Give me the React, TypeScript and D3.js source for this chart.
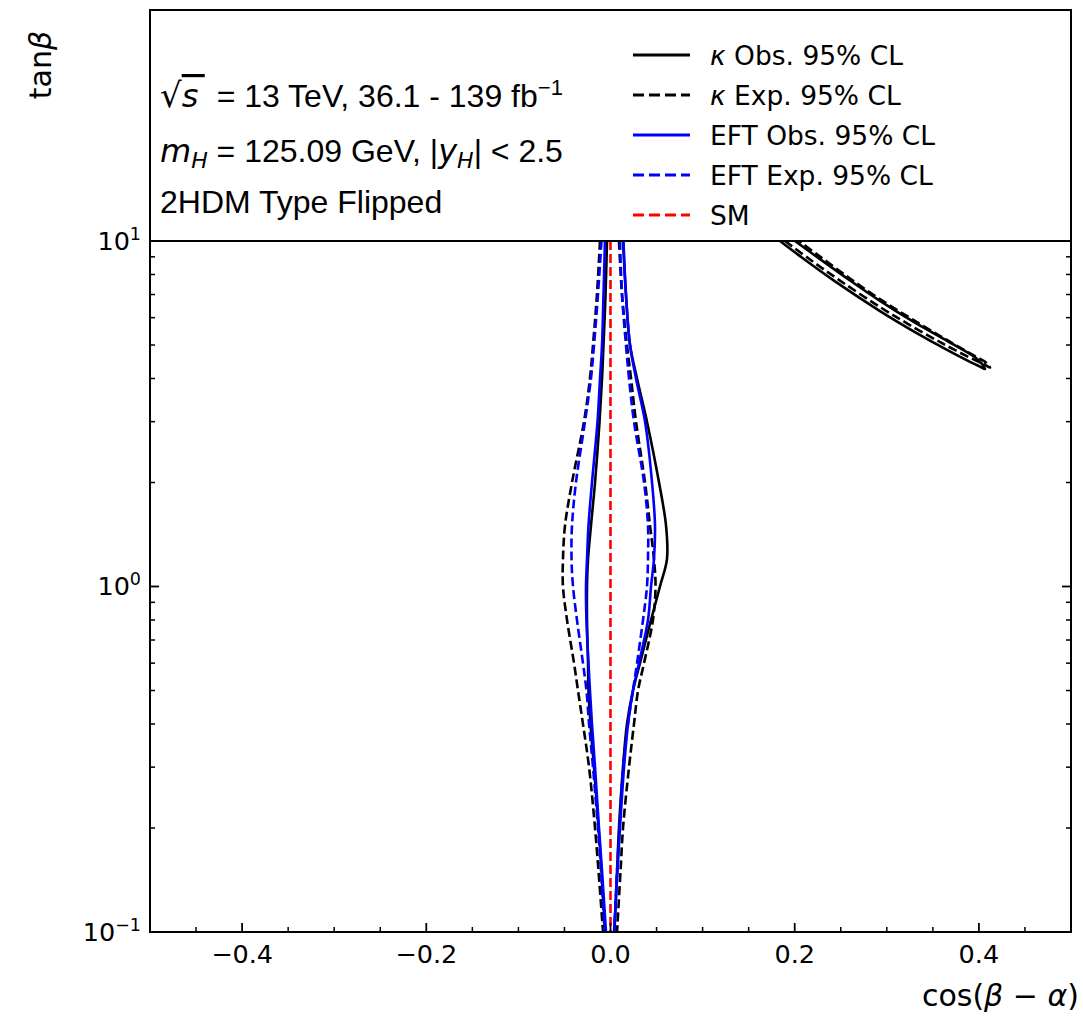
import React from 'react';
import * as d3 from 'd3';

// tanβ sampling grid for the central contours (top → bottom)
const tanBetaGrid = [10, 7, 5, 4, 3, 2, 1.5, 1.2, 1.0, 0.8, 0.6, 0.5, 0.4, 0.3, 0.2, 0.15, 0.1];

// cos(β−α) of each contour branch at the tanβ grid
const kappaObsLeft = [-0.0038, -0.0054, -0.0076, -0.0092, -0.0119, -0.0168, -0.0212, -0.0244, -0.0255, -0.0255, -0.0244, -0.0239, -0.0217, -0.0179, -0.0130, -0.0098, -0.0060];
const kappaObsRight = [0.0136, 0.0168, 0.0212, 0.0288, 0.0396, 0.0527, 0.0603, 0.0613, 0.0537, 0.0440, 0.0320, 0.0244, 0.0179, 0.0136, 0.0092, 0.0071, 0.0043];
const kappaExpLeft = [-0.0114, -0.0147, -0.0190, -0.0223, -0.0288, -0.0418, -0.0494, -0.0516, -0.0516, -0.0472, -0.0396, -0.0353, -0.0299, -0.0233, -0.0168, -0.0130, -0.0081];
const kappaExpRight = [0.0092, 0.0125, 0.0179, 0.0223, 0.0277, 0.0375, 0.0429, 0.0472, 0.0489, 0.0461, 0.0364, 0.0299, 0.0255, 0.0201, 0.0136, 0.0109, 0.0071];
const eftObsLeft = [-0.0060, -0.0076, -0.0092, -0.0114, -0.0141, -0.0201, -0.0239, -0.0255, -0.0266, -0.0261, -0.0239, -0.0223, -0.0201, -0.0168, -0.0125, -0.0092, -0.0049];
const eftObsRight = [0.0141, 0.0168, 0.0212, 0.0277, 0.0375, 0.0451, 0.0483, 0.0472, 0.0440, 0.0407, 0.0309, 0.0244, 0.0190, 0.0147, 0.0103, 0.0076, 0.0038];
const eftExpLeft = [-0.0098, -0.0136, -0.0179, -0.0212, -0.0277, -0.0375, -0.0418, -0.0423, -0.0407, -0.0364, -0.0299, -0.0261, -0.0233, -0.0190, -0.0136, -0.0103, -0.0065];
const eftExpRight = [0.0103, 0.0125, 0.0168, 0.0201, 0.0255, 0.0364, 0.0407, 0.0407, 0.0396, 0.0353, 0.0288, 0.0244, 0.0190, 0.0136, 0.0098, 0.0071, 0.0043];

// upper-right κ islands (closed thin contours: lower edge to tip, then upper edge back)
const kappaObsIslandX = [0.1840, 0.2058, 0.2438, 0.2926, 0.3306, 0.3654, 0.3925, 0.4012, 0.4066, 0.4034, 0.3958, 0.3654, 0.3306, 0.2926, 0.2600, 0.2275, 0.2003];
const kappaObsIslandT = [10.0, 9.04, 7.64, 6.27, 5.45, 4.84, 4.44, 4.33, 4.26, 4.41, 4.61, 5.14, 5.80, 6.71, 7.69, 8.86, 10.0];
const kappaExpIslandX = [0.1895, 0.2166, 0.2492, 0.2926, 0.3306, 0.3654, 0.3958, 0.4066, 0.4121, 0.4077, 0.3958, 0.3654, 0.3306, 0.2926, 0.2600, 0.2275, 0.2047];
const kappaExpIslandT = [10.0, 8.84, 7.68, 6.44, 5.60, 4.97, 4.52, 4.38, 4.30, 4.45, 4.64, 5.17, 5.87, 6.79, 7.79, 9.01, 10.0];

const smValue = 0.0;

const xMajorTicks = [-0.4, -0.2, 0.0, 0.2, 0.4];
const xTickLabels = ['\u22120.4', '\u22120.2', '0.0', '0.2', '0.4'];
const xMinorTicks = [-0.45, -0.35, -0.3, -0.25, -0.15, -0.1, -0.05, 0.05, 0.1, 0.15, 0.25, 0.3, 0.35, 0.45];
const yMajorTicks = [0.1, 1, 10];
const yTickExponents = ['\u22121', '0', '1'];

const legendLabels = [
  { pre: '\u03ba', text: ' Obs. 95% CL' },
  { pre: '\u03ba', text: ' Exp. 95% CL' },
  { pre: '', text: 'EFT Obs. 95% CL' },
  { pre: '', text: 'EFT Exp. 95% CL' },
  { pre: '', text: 'SM' },
];
const legendColors = ['#000000', '#000000', '#0000ff', '#0000ff', '#ff0000'];
const legendDashed = [false, true, false, true, true];

const W = 1083;
const H = 1022;
const L = 150, R = 1071, T = 241, B = 932, BOXTOP = 10;

export default function App() {
  const x = d3.scaleLinear().domain([-0.5, 0.5]).range([L, R]);
  const y = d3.scaleLog().domain([0.1, 10]).range([B, T]);

  const line = d3
    .line<[number, number]>()
    .x((d) => x(d[0]))
    .y((d) => y(d[1]))
    .curve(d3.curveCatmullRom.alpha(0.5));

  const branch = (xs: number[]) => line(xs.map((v, i) => [v, tanBetaGrid[i]] as [number, number])) || '';
  const island = (xs: number[], ts: number[]) => line(xs.map((v, i) => [v, ts[i]] as [number, number])) || '';

  const curveDash = '9,4';
  const curveW = 2.6;

  const central = [
    { xs: kappaObsLeft, color: '#000', dash: false },
    { xs: kappaObsRight, color: '#000', dash: false },
    { xs: kappaExpLeft, color: '#000', dash: true },
    { xs: kappaExpRight, color: '#000', dash: true },
    { xs: eftObsLeft, color: '#0000ff', dash: false },
    { xs: eftObsRight, color: '#0000ff', dash: false },
    { xs: eftExpLeft, color: '#0000ff', dash: true },
    { xs: eftExpRight, color: '#0000ff', dash: true },
  ];

  const yMinor: number[] = [];
  [0.1, 1].forEach((dec) => {
    for (let k = 2; k <= 9; k++) yMinor.push(dec * k);
  });

  const font = "'DejaVu Sans', sans-serif";
  const boxFont = "'Liberation Sans', Arial, Helvetica, sans-serif";

  return (
    <svg width={W} height={H} style={{ position: 'absolute', left: 0, top: 0, background: '#fff' }}>
      <defs>
        <clipPath id="plotClip">
          <rect x={L} y={T} width={R - L} height={B - T} />
        </clipPath>
      </defs>
      <rect x={0} y={0} width={W} height={H} fill="#fff" />

      <g clipPath="url(#plotClip)" fill="none">
        {central.map((c, i) => (
          <path key={i} d={branch(c.xs)} stroke={c.color} strokeWidth={curveW} strokeDasharray={c.dash ? curveDash : undefined} />
        ))}
        <path d={island(kappaObsIslandX, kappaObsIslandT)} stroke="#000" strokeWidth={curveW} />
        <path d={island(kappaExpIslandX, kappaExpIslandT)} stroke="#000" strokeWidth={curveW} strokeDasharray={curveDash} />
        <line x1={x(smValue)} x2={x(smValue)} y1={y(10)} y2={y(0.1)} stroke="#ff0000" strokeWidth={curveW} strokeDasharray={curveDash} />
      </g>

      {/* ticks */}
      <g stroke="#000">
        {xMajorTicks.map((v) => (
          <line key={'xM' + v} x1={x(v)} x2={x(v)} y1={B} y2={B - 9} strokeWidth={1.8} />
        ))}
        {xMinorTicks.map((v) => (
          <line key={'xm' + v} x1={x(v)} x2={x(v)} y1={B} y2={B - 5} strokeWidth={1.5} />
        ))}
        {yMajorTicks.map((v) => (
          <g key={'yM' + v}>
            <line x1={L} x2={L + 9} y1={y(v)} y2={y(v)} strokeWidth={1.8} />
            <line x1={R} x2={R - 9} y1={y(v)} y2={y(v)} strokeWidth={1.8} />
          </g>
        ))}
        {yMinor.map((v) => (
          <g key={'ym' + v}>
            <line x1={L} x2={L + 5} y1={y(v)} y2={y(v)} strokeWidth={1.5} />
            <line x1={R} x2={R - 5} y1={y(v)} y2={y(v)} strokeWidth={1.5} />
          </g>
        ))}
      </g>

      {/* frame */}
      <rect x={L} y={BOXTOP} width={R - L} height={B - BOXTOP} fill="none" stroke="#000" strokeWidth={2} />
      <line x1={L} x2={R} y1={T} y2={T} stroke="#000" strokeWidth={2} />

      {/* tick labels */}
      <g fontFamily={font} fontSize={25.5} fill="#000">
        {xMajorTicks.map((v, i) => (
          <text key={'xl' + v} x={x(v)} y={963} textAnchor="middle">
            {xTickLabels[i]}
          </text>
        ))}
        {yMajorTicks.map((v, i) => (
          <text key={'yl' + v} x={141} y={y(v) + 8.5} textAnchor="end">
            10
            <tspan dy={-10} fontSize={17.5}>
              {yTickExponents[i]}
            </tspan>
          </text>
        ))}
      </g>

      {/* axis labels */}
      <text x={1079} y={1006} textAnchor="end" fontFamily={font} fontSize={30}>
        cos(<tspan fontStyle="italic">{'\u03b2'}</tspan> {'\u2212'} <tspan fontStyle="italic">{'\u03b1'}</tspan>)
      </text>
      <text transform="translate(51,65) rotate(-90)" textAnchor="middle" fontFamily={font} fontSize={30}>
        tan<tspan fontStyle="italic">{'\u03b2'}</tspan>
      </text>

      {/* box annotations */}
      <g fontFamily={boxFont} fontSize={32} fill="#000">
        <text x={160} y={107}>
          <tspan fontFamily={font} fontSize={34}>{'\u221a'}</tspan>
          <tspan fontFamily={font} fontStyle="italic" textDecoration="overline" fontSize={32}>{'s\u2009'}</tspan>
          <tspan dx={3}>{' = 13 TeV, 36.1 - 139 fb'}</tspan>
          <tspan dy={-12} fontSize={22}>{'\u22121'}</tspan>
        </text>
        <text x={160} y={162}>
          <tspan fontFamily={font} fontStyle="italic">m</tspan>
          <tspan fontFamily={font} fontStyle="italic" dy={6} fontSize={22}>H</tspan>
          <tspan dy={-6}>{' = 125.09 GeV, |'}</tspan>
          <tspan fontFamily={font} fontStyle="italic">y</tspan>
          <tspan fontFamily={font} fontStyle="italic" dy={6} fontSize={22}>H</tspan>
          <tspan dy={-6}>{'| < 2.5'}</tspan>
        </text>
        <text x={160} y={213}>2HDM Type Flipped</text>
      </g>

      {/* legend */}
      <g fontFamily={font} fontSize={26.5}>
        {legendLabels.map((lab, i) => {
          const cy = 55 + i * 40;
          return (
            <g key={'lg' + i}>
              <line x1={633} x2={690} y1={cy} y2={cy} stroke={legendColors[i]} strokeWidth={3} strokeDasharray={legendDashed[i] ? '11,5' : undefined} />
              <text x={710} y={cy + 9.5}>
                {lab.pre ? <tspan fontStyle="italic">{lab.pre}</tspan> : null}
                {lab.text}
              </text>
            </g>
          );
        })}
      </g>
    </svg>
  );
}
